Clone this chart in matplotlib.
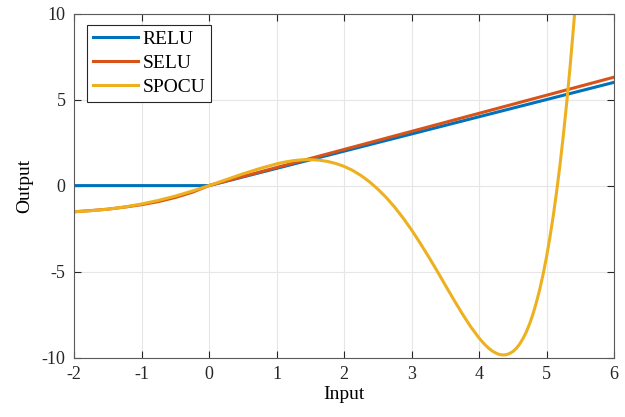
import matplotlib
matplotlib.use("Agg")
import matplotlib.pyplot as plt

# values
relu_x = [-2, 0, 6]
relu_y = [0, 0, 6]

selu_x = [-2, -1.75, -1.5, -1.25, -1, -0.75, -0.5, -0.25, 0, 6]
selu_y = [-1.52, -1.45, -1.37, -1.25, -1.11, -0.93, -0.69, -0.39, 0, 6.30]

spocu_x = [-2, -1.75, -1.5, -1.25, -1, -0.75, -0.5, -0.25, 0, 0.25, 0.5, 0.75,
           1, 1.125, 1.25, 1.375, 1.5, 1.625, 1.75, 1.875, 2, 2.125, 2.25,
           2.375, 2.5, 2.625, 2.75, 2.875, 3, 3.125, 3.25, 3.375, 3.5, 3.625,
           3.75, 3.875, 4, 4.05, 4.1, 4.15, 4.2, 4.25, 4.3, 4.35, 4.4, 4.45,
           4.5, 4.55, 4.6, 4.65, 4.7, 4.75, 4.8, 4.85, 4.9, 4.95, 5, 5.05,
           5.1, 5.15, 5.2, 5.25, 5.3, 5.35, 5.4, 5.42]
spocu_y = [-1.52, -1.46, -1.37, -1.24, -1.07, -0.86, -0.61, -0.32, 0, 0.34,
           0.68, 0.99, 1.26, 1.37, 1.45, 1.50, 1.51, 1.48, 1.41, 1.29, 1.12,
           0.89, 0.59, 0.23, -0.20, -0.69, -1.25, -1.88, -2.57, -3.32, -4.11,
           -4.93, -5.78, -6.62, -7.43, -8.19, -8.85, -9.08, -9.29, -9.47,
           -9.62, -9.73, -9.81, -9.84, -9.83, -9.76, -9.65, -9.47, -9.22,
           -8.90, -8.51, -8.03, -7.46, -6.79, -6.03, -5.15, -4.15, -3.02,
           -1.76, -0.35, 1.21, 2.94, 4.84, 6.93, 9.21, 10.18]

labels = ['RELU', 'SELU', 'SPOCU']
colors = ['#0072BD', '#D95319', '#EDB120']
x_ticks = [-2, -1, 0, 1, 2, 3, 4, 5, 6]
y_ticks = [-10, -5, 0, 5, 10]

plt.rcParams['font.family'] = ['Liberation Serif', 'DejaVu Serif']
plt.rcParams['font.size'] = 13

fig = plt.figure(figsize=(6.25, 4.17), dpi=100)
ax = fig.add_axes([0.1184, 0.1422, 0.864, 0.8254])

ax.plot(relu_x, relu_y, color=colors[0], lw=2.2, label=labels[0])
ax.plot(selu_x, selu_y, color=colors[1], lw=2.2, label=labels[1])
ax.plot(spocu_x, spocu_y, color=colors[2], lw=2.2, label=labels[2])

ax.set_xlim(-2, 6)
ax.set_ylim(-10, 10)
ax.set_xticks(x_ticks)
ax.set_yticks(y_ticks)
ax.set_xticklabels([str(t) for t in x_ticks])
ax.set_yticklabels([str(t) for t in y_ticks])
ax.grid(True, color='#e6e6e6', lw=0.8)
ax.set_axisbelow(True)
ax.tick_params(direction='in', length=5, width=0.8, colors='#262626',
               top=True, right=True, labelsize=13, pad=6)
for s in ax.spines.values():
    s.set_color('#5a5a5a')
    s.set_linewidth(0.8)

ax.set_xlabel('Input', fontsize=14, labelpad=2)
ax.set_ylabel('Output', fontsize=14, labelpad=6)

leg = ax.legend(loc='upper left', bbox_to_anchor=(0.024, 0.968), borderaxespad=0,
                fancybox=False, framealpha=1, edgecolor='#262626',
                handlelength=2.3, handletextpad=0.25, labelspacing=0.33,
                borderpad=0.3, fontsize=14)
leg.get_frame().set_linewidth(0.8)

fig.savefig('out.png', dpi=100)
